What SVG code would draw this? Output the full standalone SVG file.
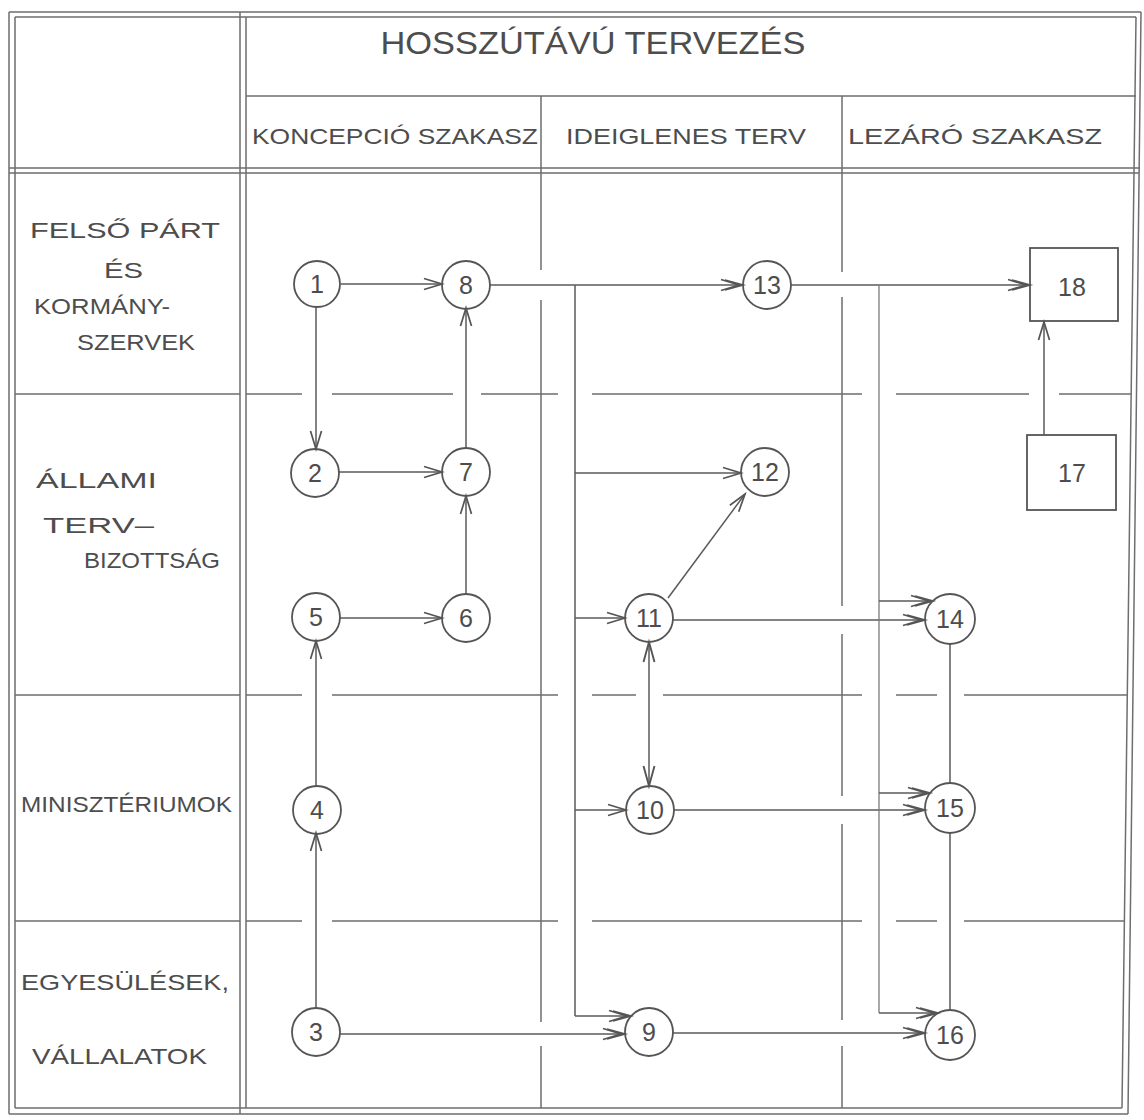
<svg xmlns="http://www.w3.org/2000/svg" width="1144" height="1120" viewBox="0 0 1144 1120">
<defs>
<style>
.g{stroke:#6e6e6e;stroke-width:1.5;fill:none}
.c{stroke:#5a5a5a;stroke-width:1.5;fill:none}
.cl{stroke:#7a7a7a;stroke-width:1.3;fill:none}
.nd circle,.nd rect{fill:none;stroke:#555;stroke-width:1.8}
.t{font-family:"Liberation Sans",Arial,sans-serif;fill:#4d4d4d}
.lbl{font-size:22px}
.hd{font-size:22px}
.num{font-size:25px;text-anchor:middle}
.a1{marker-end:url(#ar)}
.a2{marker-end:url(#ar2)}
</style>
<marker id="ar" markerUnits="userSpaceOnUse" markerWidth="24" markerHeight="16" refX="20" refY="8" orient="auto" overflow="visible">
<path d="M2,2.5 L20,8 L2,13.5" fill="none" stroke="#555" stroke-width="1.7"/>
</marker>
<marker id="ar2" markerUnits="userSpaceOnUse" markerWidth="26" markerHeight="16" refX="22" refY="8" orient="auto" overflow="visible">
<path d="M0,2.5 L18,8 L0,13.5 M4,3 L22,8 L4,13" fill="none" stroke="#555" stroke-width="1.7"/>
</marker>
<marker id="ars" markerUnits="userSpaceOnUse" markerWidth="26" markerHeight="16" refX="22" refY="8" orient="auto-start-reverse" overflow="visible">
<path d="M2,2.5 L22,8 L2,13.5" fill="none" stroke="#555" stroke-width="1.9"/>
</marker>
</defs>
<rect width="1144" height="1120" fill="#fff"/>
<g id="grid" class="g">
<path d="M9,12 H1141 M15,17 H1136 M9,1114 H1128 M15,1108 H1122"/>
<path d="M9,12 V1114 M15,17 V1108 M1141,12 L1128,1114 M1136,17 L1122,1108"/>
<path d="M240,12 V1114 M246,17 V1108"/>
<path d="M246,96 H1136"/>
<path d="M9,168 H1140 M9,173 H1139"/>
<path d="M541,96 V270 M541,300 V1022 M541,1046 V1108"/>
<path d="M842,96 V272 M842,297 V606 M842,634 V796 M842,824 V1020 M842,1046 V1108"/>
<path d="M15,394 H240 M246,394 H302 M332,394 H453 M481,394 H558 M592,394 H862 M896,394 H1029 M1059,394 H1131"/>
<path d="M15,695 H240 M246,695 H302 M332,695 H558 M592,695 H636 M663,695 H862 M896,695 H937 M964,695 H1127"/>
<path d="M15,921 H240 M246,921 H302 M332,921 H558 M592,921 H862 M896,921 H937 M964,921 H1124"/>
</g>
<g id="labels" class="t">
<text x="593" y="54" font-size="32" text-anchor="middle" textLength="425" lengthAdjust="spacingAndGlyphs">HOSSZÚTÁVÚ TERVEZÉS</text>
<text class="hd" x="252" y="144" textLength="286" lengthAdjust="spacingAndGlyphs">KONCEPCIÓ SZAKASZ</text>
<text class="hd" x="566" y="144" textLength="240" lengthAdjust="spacingAndGlyphs">IDEIGLENES TERV</text>
<text class="hd" x="848" y="144" textLength="254" lengthAdjust="spacingAndGlyphs">LEZÁRÓ SZAKASZ</text>
<text class="lbl" x="30" y="238" textLength="190" lengthAdjust="spacingAndGlyphs">FELSŐ PÁRT</text>
<text class="lbl" x="104" y="278" textLength="39" lengthAdjust="spacingAndGlyphs">ÉS</text>
<text class="lbl" x="34" y="314" textLength="136" lengthAdjust="spacingAndGlyphs">KORMÁNY-</text>
<text class="lbl" x="77" y="350" textLength="118" lengthAdjust="spacingAndGlyphs">SZERVEK</text>
<text class="lbl" x="36" y="488" textLength="121" lengthAdjust="spacingAndGlyphs">ÁLLAMI</text>
<text class="lbl" x="43" y="533" textLength="111" lengthAdjust="spacingAndGlyphs">TERV–</text>
<text class="lbl" x="84" y="568" textLength="136" lengthAdjust="spacingAndGlyphs">BIZOTTSÁG</text>
<text class="lbl" x="21" y="812" textLength="211" lengthAdjust="spacingAndGlyphs">MINISZTÉRIUMOK</text>
<text class="lbl" x="21" y="990" textLength="208" lengthAdjust="spacingAndGlyphs">EGYESÜLÉSEK,</text>
<text class="lbl" x="32" y="1064" textLength="175" lengthAdjust="spacingAndGlyphs">VÁLLALATOK</text>
</g>
<g id="connectors">
<path class="c a1" d="M341,284 H442"/>
<path class="c a1" d="M316,307 V449"/>
<path class="c a1" d="M339,472 H442"/>
<path class="c a1" d="M466,448 V308"/>
<path class="c a1" d="M466,594 V496"/>
<path class="c a1" d="M340,618 H442"/>
<path class="c a1" d="M316,786 V641"/>
<path class="c a1" d="M316,1009 V833"/>
<path class="c a2" d="M340,1034 H625"/>
<path class="c a2" d="M490,285 H743"/>
<path class="c" d="M575,285 V1016"/>
<path class="c a1" d="M575,473 H741"/>
<path class="c a1" d="M575,618 H625"/>
<path class="c a1" d="M575,810 H626"/>
<path class="c a2" d="M575,1016 H631"/>
<path class="c a1" d="M668,598 L745,494"/>
<path class="c" d="M649,642 V786" marker-start="url(#ars)" marker-end="url(#ars)"/>
<path class="c a2" d="M673,620 H925"/>
<path class="c a2" d="M674,810 H925"/>
<path class="c a2" d="M673,1033 H925"/>
<path class="c a2" d="M791,285 H1030"/>
<path class="cl" d="M879,285 V1013"/>
<path class="c a2" d="M879,601 H933"/>
<path class="c a2" d="M879,793 H930"/>
<path class="c a2" d="M879,1013 H938"/>
<path class="c" d="M950,644 V783 M950,833 V1010"/>
<path class="c a1" d="M1044,435 V322"/>
</g>
<g id="n1" class="nd"><circle cx="317" cy="284" r="23"/><text class="t num" x="317" y="293">1</text></g>
<g id="n8" class="nd"><circle cx="466" cy="285" r="24"/><text class="t num" x="466" y="294">8</text></g>
<g id="n13" class="nd"><circle cx="767" cy="285" r="24"/><text class="t num" x="767" y="294">13</text></g>
<g id="n18" class="nd"><rect x="1030" y="248" width="88" height="73"/><text class="t num" x="1072" y="296">18</text></g>
<g id="n2" class="nd"><circle cx="315" cy="473" r="24"/><text class="t num" x="315" y="482">2</text></g>
<g id="n7" class="nd"><circle cx="466" cy="472" r="24"/><text class="t num" x="466" y="481">7</text></g>
<g id="n12" class="nd"><circle cx="765" cy="472" r="24"/><text class="t num" x="765" y="481">12</text></g>
<g id="n17" class="nd"><rect x="1027" y="435" width="89" height="75"/><text class="t num" x="1072" y="482">17</text></g>
<g id="n5" class="nd"><circle cx="316" cy="617" r="24"/><text class="t num" x="316" y="626">5</text></g>
<g id="n6" class="nd"><circle cx="466" cy="618" r="24"/><text class="t num" x="466" y="627">6</text></g>
<g id="n11" class="nd"><circle cx="649" cy="618" r="24"/><text class="t num" x="649" y="627">11</text></g>
<g id="n14" class="nd"><circle cx="950" cy="619" r="25"/><text class="t num" x="950" y="628">14</text></g>
<g id="n4" class="nd"><circle cx="317" cy="810" r="24"/><text class="t num" x="317" y="819">4</text></g>
<g id="n10" class="nd"><circle cx="650" cy="810" r="24"/><text class="t num" x="650" y="819">10</text></g>
<g id="n15" class="nd"><circle cx="950" cy="808" r="25"/><text class="t num" x="950" y="817">15</text></g>
<g id="n3" class="nd"><circle cx="316" cy="1032" r="24"/><text class="t num" x="316" y="1041">3</text></g>
<g id="n9" class="nd"><circle cx="649" cy="1032" r="24"/><text class="t num" x="649" y="1041">9</text></g>
<g id="n16" class="nd"><circle cx="950" cy="1035" r="25"/><text class="t num" x="950" y="1044">16</text></g>
</svg>
